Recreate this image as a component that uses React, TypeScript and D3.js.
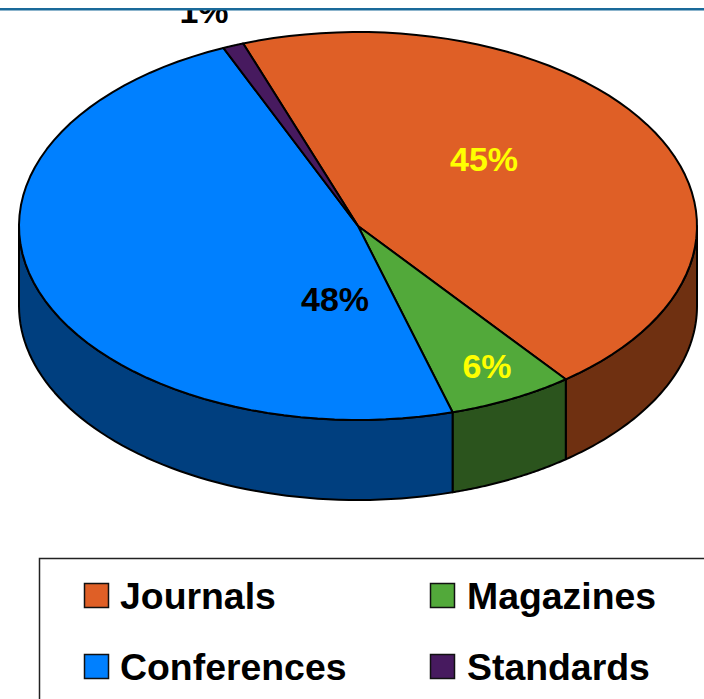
import React, { useRef, useEffect } from 'react';
import * as d3 from 'd3';

const categories = ['Journals', 'Magazines', 'Conferences', 'Standards'];
const values = [45, 6, 48, 1];
const topColours = ['#DF5F26', '#52A93A', '#0080FF', '#471A5F'];
const sideColours = ['#6F3011', '#2B541D', '#003F7F', '#24102F'];
const labelColours = ['#FFFF00', '#FFFF00', '#000000', '#000000'];

const width = 704;
const height = 699;
const cx = 358;
const cy = 226;
const rx = 339;
const ry = 194;
const depth = 80;
const startDeg = -19.8;

const rad = (deg: number) => (deg * Math.PI) / 180;

// angle is clockwise from 12 o'clock, the same as d3.pie
const xAt = (a: number) => cx + rx * Math.sin(a);
const yAt = (a: number) => cy - ry * Math.cos(a);

const sweep = (a0: number, a1: number) => d3.range(0, 61).map(i => a0 + ((a1 - a0) * i) / 60);

const App: React.FC = () => {
  const svgRef = useRef<SVGSVGElement | null>(null);

  useEffect(() => {
    if (!svgRef.current) return;
    const svg = d3.select(svgRef.current);
    svg.selectAll('*').remove();

    const slices = d3.pie<number>()
      .sort(null)
      .startAngle(rad(startDeg))
      .endAngle(rad(startDeg + 360))(values);

    const line = d3.line<[number, number]>();

    // side wall, only the front half of the ellipse shows
    slices.forEach((d, i) => {
      const a0 = Math.max(d.startAngle, rad(90));
      const a1 = Math.min(d.endAngle, rad(270));
      if (a1 <= a0) return;
      const pts = sweep(a0, a1);
      const top = pts.map(a => [xAt(a), yAt(a)] as [number, number]);
      const bottom = pts.map(a => [xAt(a), yAt(a) + depth] as [number, number]).reverse();
      svg.append('path')
        .attr('d', `${line([...top, ...bottom])}Z`)
        .attr('fill', sideColours[i])
        .attr('stroke', '#000')
        .attr('stroke-width', 2)
        .attr('stroke-linejoin', 'round');
    });

    // top face
    slices.forEach((d, i) => {
      const pts = sweep(d.startAngle, d.endAngle).map(a => [xAt(a), yAt(a)] as [number, number]);
      svg.append('path')
        .attr('d', `${line([[cx, cy], ...pts])}Z`)
        .attr('fill', topColours[i])
        .attr('stroke', '#000')
        .attr('stroke-width', 2)
        .attr('stroke-linejoin', 'round');
    });

    const font = '"Liberation Sans", Arial, sans-serif';

    // percent labels
    const labelSpots: [number, number][] = [[484, 171], [487, 378], [335, 311], [204, 23]];
    slices.forEach((d, i) => {
      svg.append('text')
        .attr('x', labelSpots[i][0])
        .attr('y', labelSpots[i][1])
        .attr('text-anchor', 'middle')
        .attr('font-family', font)
        .attr('font-weight', 700)
        .attr('font-size', 34)
        .attr('fill', labelColours[i])
        .text(`${d.value}%`);
    });

    // slide header covers the top of the 1% label
    svg.append('rect').attr('x', 0).attr('y', 0).attr('width', width).attr('height', 9).attr('fill', '#fff');
    svg.append('rect').attr('x', 0).attr('y', 8).attr('width', width).attr('height', 2.5).attr('fill', '#1A6A9A');

    // legend
    svg.append('rect')
      .attr('x', 39.5)
      .attr('y', 558.5)
      .attr('width', width)
      .attr('height', height)
      .attr('fill', '#fff')
      .attr('stroke', '#222')
      .attr('stroke-width', 1.5);

    const legendCols = [84, 430];
    const legendRows = [583, 654];
    const legendOrder = [0, 1, 2, 3];
    legendOrder.forEach(i => {
      const x = legendCols[i % 2];
      const y = legendRows[Math.floor(i / 2)];
      svg.append('rect')
        .attr('x', x + 0.5)
        .attr('y', y + 0.5)
        .attr('width', 24)
        .attr('height', 24)
        .attr('fill', topColours[i])
        .attr('stroke', '#111')
        .attr('stroke-width', 1.5);
      svg.append('text')
        .attr('x', i % 2 === 0 ? x + 36 : x + 37)
        .attr('y', y + 26)
        .attr('font-family', font)
        .attr('font-weight', 700)
        .attr('font-size', 37.4)
        .attr('fill', '#000')
        .text(categories[i]);
    });
  }, []);

  return (
    <svg
      ref={svgRef}
      width={width}
      height={height}
      style={{ position: 'absolute', left: 0, top: 0, display: 'block', background: '#fff' }}
    />
  );
};

export default App;
